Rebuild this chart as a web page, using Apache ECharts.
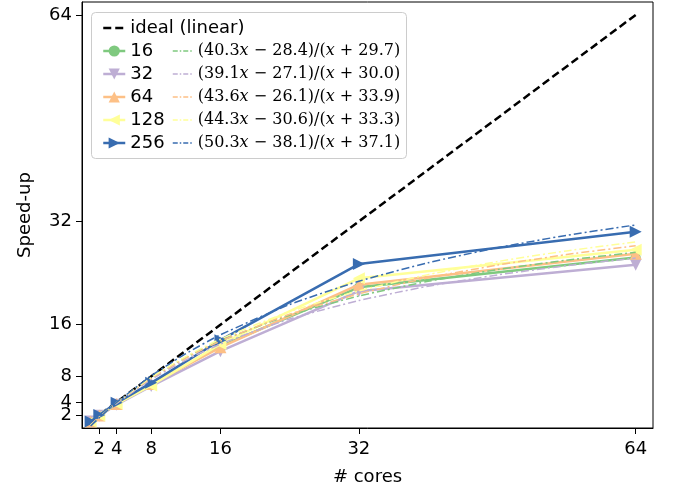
<!DOCTYPE html>
<html>
<head>
<meta charset="utf-8">
<script src="https://cdn.jsdelivr.net/npm/echarts@6/dist/echarts.min.js"></script>
<style>html,body{margin:0;padding:0;background:#fff;}#chart{width:679px;height:493px;}</style>
</head>
<body>
<div id="chart"></div>
<script>
// ---- data ----
const cores = [1, 2, 4, 8, 16, 32, 64];
const tickValues = [2, 4, 8, 16, 32, 64];
const seriesNames = ['16', '32', '64', '128', '256'];
const speed16  = [1, 1.95, 3.7, 6.7, 12.7, 21.8, 26.4];
const speed32  = [1, 1.9, 3.6, 6.5, 11.9, 21.2, 25.3];
const speed64  = [1, 1.95, 3.7, 6.8, 12.5, 22.2, 27.0];
const speed128 = [1, 1.95, 3.75, 6.6, 13.0, 23.2, 27.6];
const speed256 = [1, 2.0, 3.9, 7.0, 13.6, 25.4, 30.4];
const idealX = [1, 64];
const idealY = [1, 64];
const fitX = [1, 2, 4, 8, 12, 16, 24, 32, 40, 48, 56, 64];
const fit16  = [0.39, 1.65, 3.94, 7.80, 10.92, 13.49, 17.48, 20.44, 22.72, 24.53, 26.00, 27.22];
const fit32  = [0.39, 1.60, 3.80, 7.52, 10.53, 13.01, 16.88, 19.74, 21.96, 23.71, 25.15, 26.33];
const fit64  = [0.50, 1.70, 3.91, 7.70, 10.83, 13.46, 17.62, 20.78, 23.25, 25.23, 26.87, 28.24];
const fit128 = [0.40, 1.64, 3.93, 7.84, 11.06, 13.76, 18.02, 21.24, 23.76, 25.78, 27.44, 28.82];
const fit256 = [0.32, 1.60, 3.97, 8.08, 11.52, 14.44, 19.13, 22.74, 25.60, 27.92, 29.85, 31.46];
const fitLabels = [
  ['40.3', '28.4', '29.7'],
  ['39.1', '27.1', '30.0'],
  ['43.6', '26.1', '33.9'],
  ['44.3', '30.6', '33.3'],
  ['50.3', '38.1', '37.1']
];

// ---- styling ----
const colors = ['#7fc97f', '#beaed4', '#fdc086', '#ffff99', '#386cb0'];
const symbols = ['circle', 'triangle', 'triangle', 'triangle', 'triangle'];
const rotations = [0, 180, 0, 90, -90];
const speeds = [speed16, speed32, speed64, speed128, speed256];
const fits = [fit16, fit32, fit64, fit128, fit256];
const zip = (xs, ys) => xs.map((x, i) => [x, ys[i]]);
const fitName = (p) => '(' + p[0] + 'x − ' + p[1] + ')/(x + ' + p[2] + ')';
const idealDash = [8, 4];
const fitDash = [8, 3, 2, 3];

const series = [];
series.push({
  name: 'ideal (linear)', type: 'line', data: zip(idealX, idealY),
  symbol: 'none', z: 2,
  lineStyle: { color: '#000', width: 2.5, type: idealDash },
  itemStyle: { color: '#000' }
});
seriesNames.forEach((n, i) => {
  series.push({
    name: n, type: 'line', data: zip(cores, speeds[i]), z: 3 + i,
    symbol: symbols[i], symbolSize: i === 0 ? 10 : 12, symbolRotate: rotations[i],
    lineStyle: { color: colors[i], width: 2.5 },
    itemStyle: { color: colors[i] }
  });
});
seriesNames.forEach((n, i) => {
  series.push({
    name: fitName(fitLabels[i]), type: 'line', data: zip(fitX, fits[i]), z: 10 + i,
    symbol: 'none', smooth: 0.2,
    lineStyle: { color: colors[i], width: 1.5, type: fitDash },
    itemStyle: { color: colors[i] }
  });
});

const fitFormatter = (name) => {
  const m = name.match(/\(([\d.]+)x − ([\d.]+)\)\/\(x \+ ([\d.]+)\)/);
  if (!m) return name;
  return '{n|(' + m[1] + '}{i|x}{n| − ' + m[2] + ')/(}{i|x}{n| + ' + m[3] + ')}';
};
const hiddenSymbol = { color: 'rgba(0,0,0,0)', borderWidth: 0, borderColor: 'rgba(0,0,0,0)' };

const yLabelStyle = { margin: 10, fontFamily: 'DejaVu Sans', fontSize: 18, color: '#000', hideOverlap: false, showMinLabel: true, showMaxLabel: true };

const chart = echarts.init(document.getElementById('chart'), null, { renderer: 'canvas' });
chart.setOption({
  animation: false,
  backgroundColor: '#fff',
  grid: { left: 82, right: 26, top: 2, bottom: 65, show: true, borderColor: '#000', borderWidth: 1, backgroundColor: 'transparent' },
  xAxis: {
    type: 'value', min: 0, max: 66,
    name: '# cores', nameLocation: 'middle', nameGap: 40,
    nameTextStyle: { fontFamily: 'DejaVu Sans', fontSize: 18, color: '#000' },
    axisLine: { show: true, lineStyle: { color: '#000', width: 1 } },
    axisTick: { show: true, length: 6, customValues: tickValues, lineStyle: { color: '#000', width: 1 } },
    axisLabel: { customValues: tickValues, margin: 12, fontFamily: 'DejaVu Sans', fontSize: 18, color: '#000', hideOverlap: false },
    splitLine: { show: false }
  },
  yAxis: [{
    type: 'value', min: 0, max: 66,
    name: 'Speed-up', nameLocation: 'middle', nameGap: 48, nameRotate: 90,
    nameTextStyle: { fontFamily: 'DejaVu Sans', fontSize: 18, color: '#000' },
    axisLine: { show: true, lineStyle: { color: '#000', width: 1 } },
    axisTick: { show: true, length: 6, customValues: tickValues, lineStyle: { color: '#000', width: 1 } },
    axisLabel: Object.assign({ customValues: tickValues.slice(1) }, yLabelStyle),
    splitLine: { show: false }
  }, {
    type: 'value', min: 0, max: 66, position: 'left', offset: 0,
    axisLine: { show: false }, axisTick: { show: false },
    axisLabel: Object.assign({ customValues: tickValues.slice(0, 1) }, yLabelStyle),
    splitLine: { show: false }
  }],
  graphic: [{
    type: 'rect', left: 91, top: 12, z: 50,
    shape: { width: 315, height: 146, r: 4 },
    style: { fill: 'rgba(255,255,255,0.8)', stroke: '#cccccc', lineWidth: 1 }
  }],
  legend: [
    {
      data: [{ name: 'ideal (linear)', itemStyle: hiddenSymbol, lineStyle: { type: idealDash, width: 2.5, color: '#000' } }],
      left: 97, top: 14, orient: 'vertical',
      itemWidth: 22, itemHeight: 14, itemGap: 5, z: 60,
      textStyle: { fontFamily: 'DejaVu Sans', fontSize: 18, color: '#000', lineHeight: 18 },
      selectedMode: false
    },
    {
      data: seriesNames.map((n, i) => ({ name: n, lineStyle: { width: 2.5, color: colors[i] } })),
      left: 97, top: 37, orient: 'vertical',
      itemWidth: 22, itemHeight: 14, itemGap: 5, z: 60,
      textStyle: { fontFamily: 'DejaVu Sans', fontSize: 18, color: '#000', lineHeight: 18 },
      selectedMode: false
    },
    {
      data: fitLabels.map((p, i) => ({ name: fitName(p), itemStyle: hiddenSymbol, lineStyle: { type: [5, 2, 1.5, 2], width: 1.5, color: colors[i] } })),
      left: 167, top: 37, orient: 'vertical',
      itemWidth: 20, itemHeight: 14, itemGap: 5, z: 60,
      formatter: fitFormatter,
      textStyle: {
        fontFamily: 'DejaVu Serif', fontSize: 16, color: '#000', lineHeight: 18,
        rich: {
          n: { fontFamily: 'DejaVu Serif', fontSize: 16, color: '#000', lineHeight: 18 },
          i: { fontFamily: 'DejaVu Serif', fontStyle: 'italic', fontSize: 16, color: '#000', lineHeight: 18 }
        }
      },
      selectedMode: false
    }
  ],
  series: series
});
</script>
</body>
</html>
